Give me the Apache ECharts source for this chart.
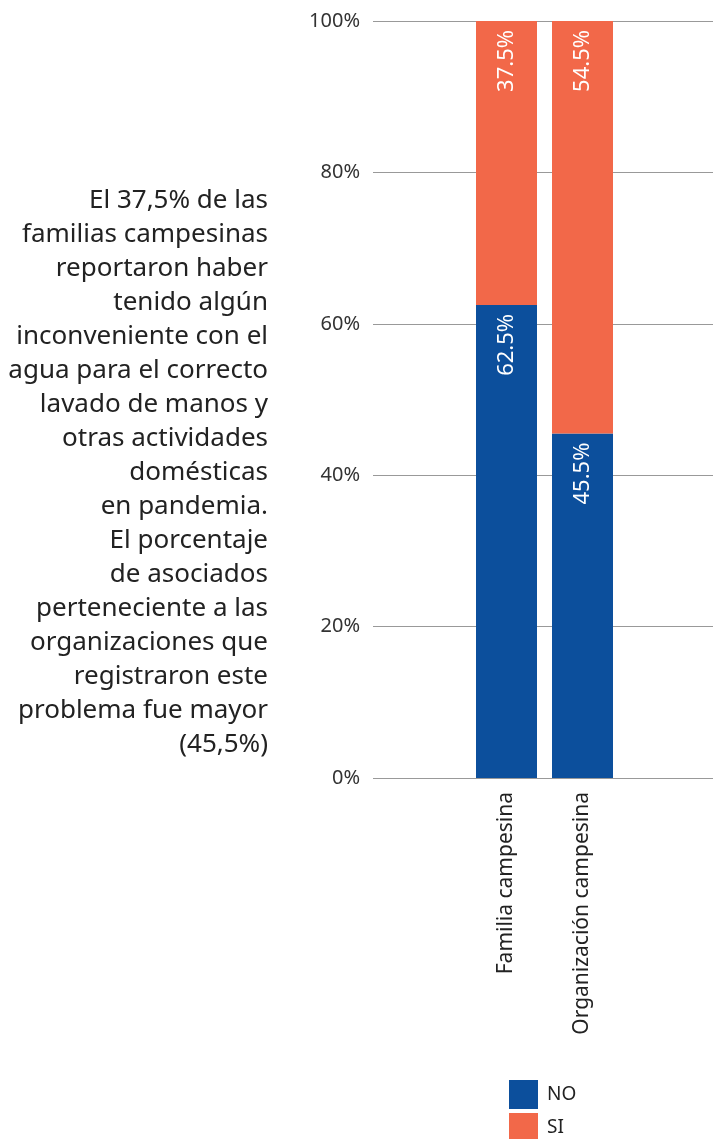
<!DOCTYPE html>
<html>
<head>
<meta charset="utf-8">
<script src="https://cdn.jsdelivr.net/npm/echarts@6/dist/echarts.min.js"></script>
<style>
	html, body { margin: 0; padding: 0; background: #fff; }
	#chart { width: 713px; height: 1139px; }
</style>
</head>
<body>
<div id="chart"></div>
<script>
var categories = ['Familia campesina', 'Organización campesina'];
var noValues = [62.5, 45.5];
var siValues = [37.5, 54.5];
var yTicks = [0, 20, 40, 60, 80, 100];
var noteLines = [
	'El 37,5% de las',
	'familias campesinas',
	'reportaron haber',
	'tenido algún',
	'inconveniente con el',
	'agua para el correcto',
	'lavado de manos y',
	'otras actividades',
	'domésticas',
	'en pandemia.',
	'El porcentaje',
	'de asociados',
	'perteneciente a las',
	'organizaciones que',
	'registraron este',
	'problema fue mayor',
	'(45,5%)'
];

var fontName = 'Noto Sans';
var myChart = echarts.init(document.getElementById('chart'));

function barLabel() {
	return {
		show: true,
		position: 'insideTop',
		rotate: 90,
		align: 'right',
		verticalAlign: 'middle',
		distance: 9,
		color: '#fff',
		fontFamily: fontName,
		fontSize: 22,
		formatter: function (p) {
			return p.value.toFixed(1) + '%';
		}
	};
}

function legendItem(name, top) {
	return {
		orient: 'vertical',
		left: 509,
		top: top,
		padding: 0,
		itemWidth: 29,
		itemHeight: 29,
		icon: 'rect',
		textStyle: { fontFamily: fontName, fontSize: 19, color: '#222', padding: [0, 0, 0, 4] },
		data: [name]
	};
}

option = {
	backgroundColor: '#fff',
	animation: false,
	textStyle: { fontFamily: fontName },
	grid: [
		{ left: 373, right: 0, top: 21, bottom: 361 }, //网格线
		{ left: 468.5, width: 152, top: 21, bottom: 361 } //柱子
	],
	xAxis: [{
			gridIndex: 0,
			type: 'value',
			min: 0,
			max: 1,
			show: false
		},
		{
			gridIndex: 1,
			type: 'category',
			data: categories,
			axisLine: { show: false },
			axisTick: { show: false },
			axisLabel: {
				rotate: 90,
				margin: 14,
				color: '#222',
				fontFamily: fontName,
				fontSize: 21
			}
		}
	],
	yAxis: [{
			gridIndex: 0,
			type: 'value',
			min: yTicks[0],
			max: yTicks[yTicks.length - 1],
			interval: yTicks[1] - yTicks[0],
			axisLine: { show: false },
			axisTick: { show: false },
			axisLabel: {
				margin: 13,
				color: '#333',
				fontFamily: fontName,
				fontSize: 20,
				formatter: '{value}%'
			},
			splitLine: { lineStyle: { color: '#999', width: 1 } }
		},
		{
			gridIndex: 1,
			type: 'value',
			min: 0,
			max: 100,
			show: false,
			splitLine: { show: false }
		}
	],
	legend: [legendItem('NO', 1080), legendItem('SI', 1113)],
	graphic: [{
		type: 'text',
		right: 713 - 268,
		top: 184,
		style: {
			text: noteLines.join('\n'),
			textAlign: 'right',
			font: '26px "Noto Sans"',
			lineHeight: 34,
			fill: '#222'
		}
	}],
	series: [{
			name: 'NO',
			type: 'bar',
			stack: 'total',
			xAxisIndex: 1,
			yAxisIndex: 1,
			barWidth: 61,
			data: noValues,
			itemStyle: { color: '#0C4F9C' },
			label: barLabel()
		},
		{
			name: 'SI',
			type: 'bar',
			stack: 'total',
			xAxisIndex: 1,
			yAxisIndex: 1,
			barWidth: 61,
			data: siValues,
			itemStyle: { color: '#F26849' },
			label: barLabel()
		}
	]
};
myChart.setOption(option);
</script>
</body>
</html>
